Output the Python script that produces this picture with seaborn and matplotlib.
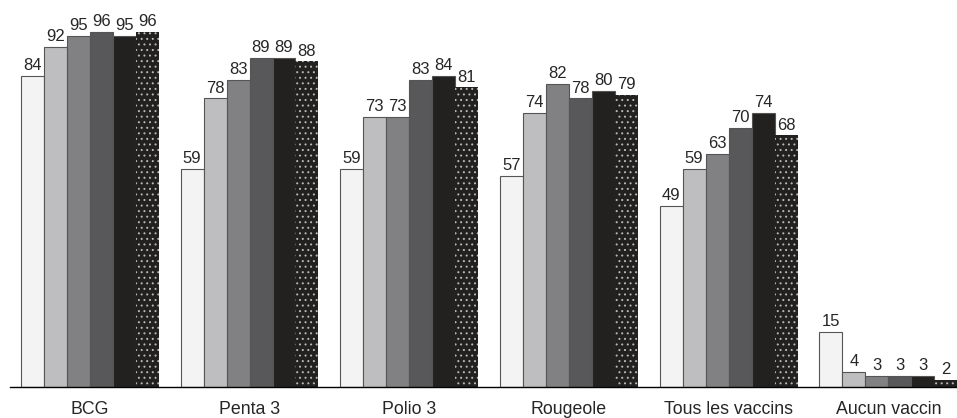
import pandas as pd
import numpy as np
import matplotlib
matplotlib.use("Agg")
import matplotlib.pyplot as plt
import seaborn as sns

categories = ["BCG", "Penta 3", "Polio 3", "Rougeole", "Tous les vaccins", "Aucun vaccin"]
series_names = ["S1", "S2", "S3", "S4", "S5", "S6"]
values = {
    "S1": [84, 59, 59, 57, 49, 15],
    "S2": [92, 78, 73, 74, 59, 4],
    "S3": [95, 83, 73, 82, 63, 3],
    "S4": [96, 89, 83, 78, 70, 3],
    "S5": [95, 89, 84, 80, 74, 3],
    "S6": [96, 88, 81, 79, 68, 2],
}
colors = ["#f2f3f2", "#bdbec2", "#808184", "#58585a", "#231f20", "#231f20"]

rows = []
for s in series_names:
    for c, v in zip(categories, values[s]):
        rows.append({"cat": c, "serie": s, "val": v})
df = pd.DataFrame(rows)

sns.set_style("white")
plt.rcParams['font.family'] = ['Liberation Sans', 'DejaVu Sans']
plt.rcParams['hatch.linewidth'] = 0.7

fig = plt.figure(figsize=(9.57, 4.18), dpi=100)
ax = fig.add_axes([10 / 957, 31 / 418, 1 - 10 / 957, 382 / 418])

sns.barplot(data=df, x="cat", y="val", hue="serie", order=categories,
            hue_order=series_names, palette=colors, width=0.8625, gap=0,
            edgecolor="#555555", linewidth=0.8, legend=False, ax=ax)

# last series: black with small light dots (hatch drawn in the edge colour)
for p in ax.containers[-1]:
    p.set_hatch("...")
    p.set_edgecolor("#b8b8b8")
    p.set_linewidth(0)

for cont in ax.containers:
    ax.bar_label(cont, fmt="%d", padding=2, fontsize=12)

ax.set_xlim(-0.5, 5.43)
ax.set_ylim(0, 382 / 3.7)
ax.set_xlabel("")
ax.set_ylabel("")
ax.set_yticks([])
ax.tick_params(axis="x", length=0, pad=10, labelsize=12.8)
for side in ["top", "right", "left"]:
    ax.spines[side].set_visible(False)
ax.spines["bottom"].set_color("black")
ax.spines["bottom"].set_linewidth(1)

fig.savefig("out.png", dpi=100)
